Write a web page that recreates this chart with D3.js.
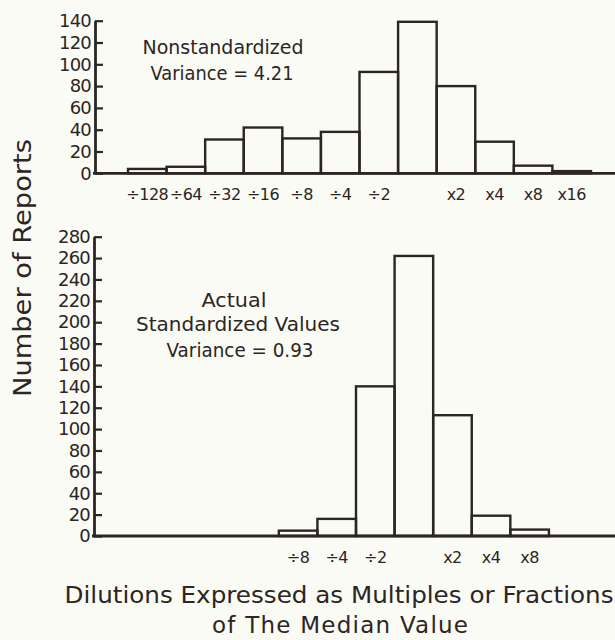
<!DOCTYPE html>
<html>
<head>
<meta charset="utf-8">
<script src="https://cdn.jsdelivr.net/npm/d3@7"></script>
<style>
  html, body { margin: 0; padding: 0; background: #fbfbf6; }
  svg { display: block; }
  text { font-family: "DejaVu Sans", "Open Sans", sans-serif; fill: #2b2523; }
</style>
</head>
<body>
<svg id="chart" width="615" height="640"></svg>
<script>
// ---- data ----
const bins = ["÷128","÷64","÷32","÷16","÷8","÷4","÷2","1","x2","x4","x8","x16"];
const topTickLabels = ["÷128","÷64","÷32","÷16","÷8","÷4","÷2","","x2","x4","x8","x16"];
const bottomTickLabels = ["","","","","÷8","÷4","÷2","","x2","x4","x8",""];
const nonstandardized = [4, 6, 31, 42, 32, 38, 93, 139, 80, 29, 7, 2];
const standardized = [0, 0, 0, 0, 5, 16, 140, 262, 113, 19, 6, 0];
const topYTicks = [0, 20, 40, 60, 80, 100, 120, 140];
const bottomYTicks = [0, 20, 40, 60, 80, 100, 120, 140, 160, 180, 200, 220, 240, 260, 280];
const topNote = ["Nonstandardized", "Variance = 4.21"];
const bottomNote = ["Actual", "Standardized Values", "Variance = 0.93"];
const yTitle = "Number of Reports";
const xTitle = ["Dilutions Expressed as Multiples or Fractions", "of The Median Value"];

const ink = "#2b2523";
const svg = d3.select("#chart");
const W = 615;

function panel(values, tickLabels, yTicks, xRange, yRange, yMax, axisX) {
  const x = d3.scaleBand().domain(bins).range(xRange).paddingInner(0).paddingOuter(0);
  const y = d3.scaleLinear().domain([0, yMax]).range(yRange);
  const g = svg.append("g");

  const data = bins.map((b, i) => ({ b, v: values[i], lab: tickLabels[i] }));
  g.selectAll("rect.bar").data(data.filter(d => d.v > 0)).enter().append("rect")
    .attr("class", "bar")
    .attr("x", d => x(d.b))
    .attr("y", d => y(d.v))
    .attr("width", x.bandwidth())
    .attr("height", d => y(0) - y(d.v))
    .attr("fill", "none")
    .attr("stroke", ink)
    .attr("stroke-width", 2.4);

  g.append("line")
    .attr("x1", axisX - 2).attr("x2", W)
    .attr("y1", y(0)).attr("y2", y(0))
    .attr("stroke", ink).attr("stroke-width", 2.8);

  const ax = d3.axisLeft(y).tickValues(yTicks).tickSizeInner(-8).tickSizeOuter(0).tickPadding(4)
    .tickFormat(d3.format("d"));
  const ag = g.append("g").attr("transform", `translate(${axisX},0)`).call(ax);
  ag.select(".domain").attr("stroke", ink).attr("stroke-width", 2.8);
  ag.selectAll(".tick line").attr("stroke", ink).attr("stroke-width", 2.2);
  ag.selectAll(".tick text").attr("font-size", 18).attr("font-family", "'DejaVu Sans', sans-serif")
    .attr("fill", ink).attr("letter-spacing", -0.8);

  g.selectAll("text.xl").data(data.filter(d => d.lab !== "")).enter().append("text")
    .attr("class", "xl")
    .attr("x", d => x(d.b) + x.bandwidth() / 2)
    .attr("y", y(0) + 27)
    .attr("text-anchor", "middle")
    .attr("font-size", 16)
    .attr("letter-spacing", -0.5)
    .text(d => d.lab);
  return { x, y };
}

panel(nonstandardized, topTickLabels, topYTicks, [128, 591], [173.3, 20.7], 140, 95);
panel(standardized, bottomTickLabels, bottomYTicks, [124.5, 587.5], [536, 236.7], 280, 94);

const topNotePos = [{x: 223, y: 54, w: 161}, {x: 222, y: 80, w: 143}];
topNote.forEach((t, i) => {
  svg.append("text").attr("x", topNotePos[i].x).attr("y", topNotePos[i].y)
    .attr("text-anchor", "middle").attr("font-size", 19)
    .attr("textLength", topNotePos[i].w).attr("lengthAdjust", "spacingAndGlyphs").text(t);
});
const botNotePos = [{x: 234, y: 307, w: 65}, {x: 238, y: 331, w: 204}, {x: 240, y: 357, w: 147}];
bottomNote.forEach((t, i) => {
  svg.append("text").attr("x", botNotePos[i].x).attr("y", botNotePos[i].y)
    .attr("text-anchor", "middle").attr("font-size", 19)
    .attr("textLength", botNotePos[i].w).attr("lengthAdjust", "spacingAndGlyphs").text(t);
});

svg.append("text")
  .attr("transform", "translate(31,268) rotate(-90)")
  .attr("text-anchor", "middle").attr("font-size", 25)
  .attr("textLength", 258).attr("lengthAdjust", "spacingAndGlyphs")
  .text(yTitle);

const xtPos = [{x: 339, y: 603, w: 549}, {x: 340, y: 633, w: 256}];
xTitle.forEach((t, i) => {
  svg.append("text").attr("x", xtPos[i].x).attr("y", xtPos[i].y)
    .attr("text-anchor", "middle").attr("font-size", 23)
    .attr("textLength", xtPos[i].w).attr("lengthAdjust", i === 0 ? "spacingAndGlyphs" : "spacing").text(t);
});
</script>
</body>
</html>
